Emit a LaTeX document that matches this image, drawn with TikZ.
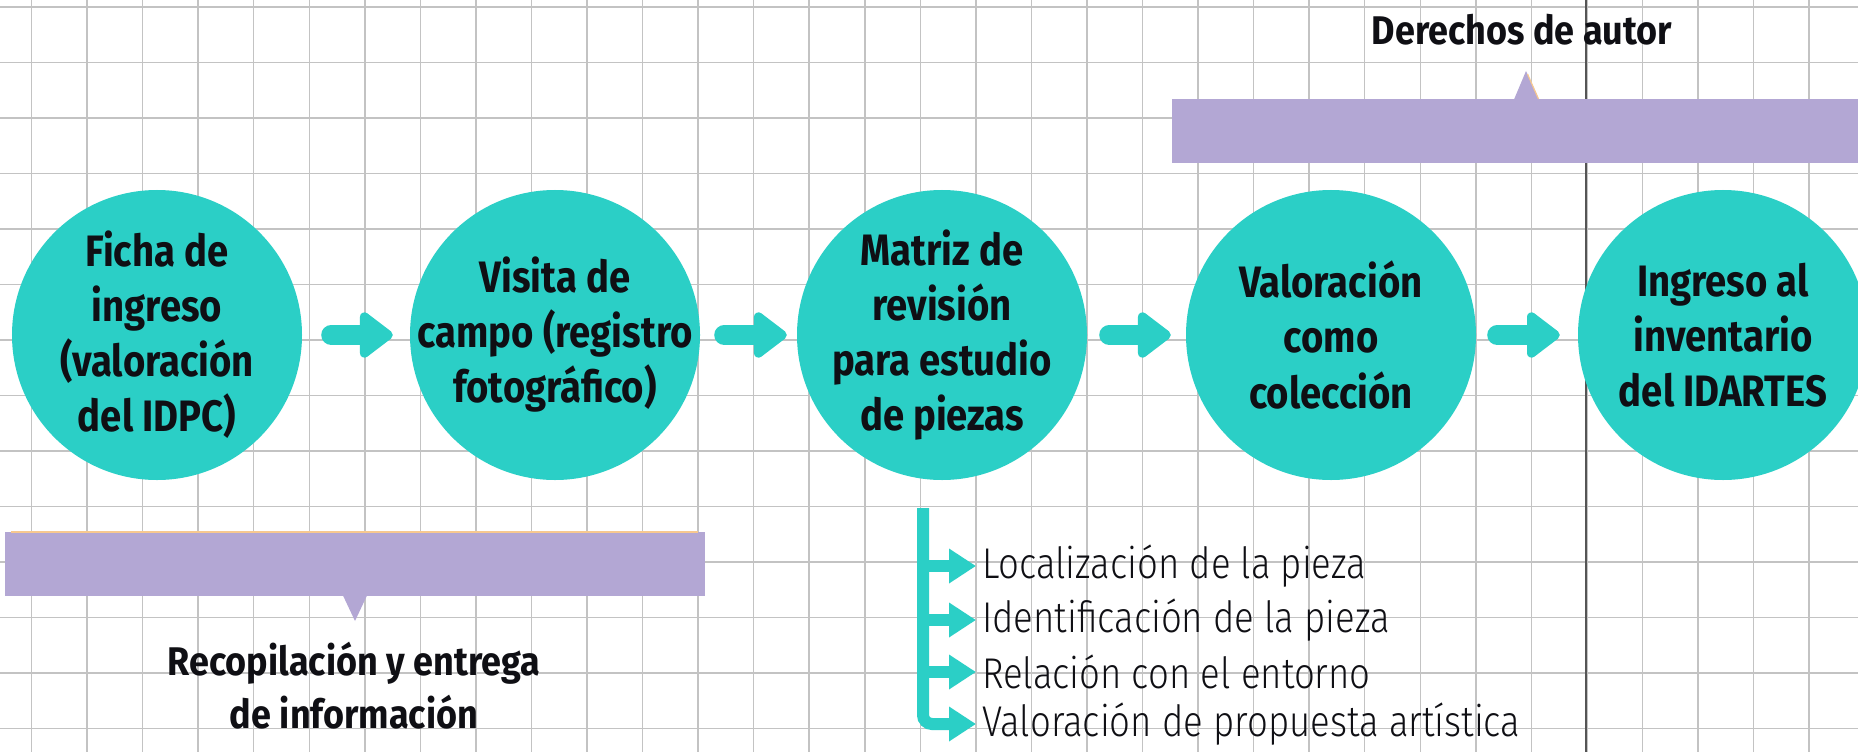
\documentclass[tikz,border=0pt]{standalone}
\usepackage{fontspec}
\setmainfont{Fira Sans}
\newfontfamily\circfam{Fira Sans}[FakeStretch=0.87]
\newfontfamily\labelfam{Fira Sans}[FakeStretch=0.9]
\newfontfamily\listlightfont{Fira Sans Light}[FakeStretch=0.85]
\usetikzlibrary{arrows.meta,calc}
\definecolor{tealc}{RGB}{43,207,198}
\definecolor{purplec}{RGB}{179,167,212}
\definecolor{gridc}{RGB}{195,195,195}
\definecolor{darkgridc}{RGB}{85,85,85}
\definecolor{orangec}{RGB}{247,200,143}
\definecolor{inkc}{RGB}{15,15,20}
\newcommand\myCircFont{\circfam\fontsize{44bp}{55bp}\selectfont\bfseries}
\newcommand\myLabelFont{\labelfam\fontsize{40bp}{53bp}\selectfont\bfseries}
\newcommand\myListFont{\listlightfont\fontsize{43bp}{50bp}\selectfont}
\begin{document}
\begin{tikzpicture}[x=1bp,y=-1bp,
  gridline/.style={draw=gridc,line width=1.5bp},
  darkline/.style={draw=darkgridc,line width=2bp},
  circ/.style={circle,fill=tealc,minimum size=290bp,inner sep=0pt},
  ctext/.style={align=center,font=\myCircFont,text=inkc,inner sep=0pt},
  lbl/.style={align=center,font=\myLabelFont,text=inkc,inner sep=0pt},
  item/.style={anchor=west,font=\myListFont,text=inkc,inner sep=0pt},
  bar/.style={rectangle,fill=purplec,inner sep=0pt},
  flow/.style={draw=tealc,line width=20bp,line cap=round,
    -{Triangle[length=36bp,width=52bp,round]}},
  brk/.style={draw=tealc,line width=12bp,
    -{Triangle[length=27bp,width=33bp]},shorten >=6bp}
]
\useasboundingbox (0,0) rectangle (1858,752);
\fill[white] (0,0) rectangle (1858,752);
% grid
\foreach \i in {0,...,32} \draw[gridline] ({31.5+55.55*\i},0) -- ++(0,752);
\foreach \j in {0,...,13} \draw[gridline] (0,{7+55.5*\j}) -- ++(1858,0);
\draw[darkline] (1586,0) -- (1586,752);

% circles
\node[circ] (c1) at (157,335) {};
\node[circ] (c2) at (555,335) {};
\node[circ] (c3) at (942,335) {};
\node[circ] (c4) at (1331,335) {};
\node[circ] (c5) at (1723,335) {};
\node[ctext] (t1) at (c1) {Ficha de\\ingreso\\(valoración\\del IDPC)};
\node[ctext] (t2) at (c2) {Visita de\\campo (registro\\fotográfico)};
\node[ctext] (t3) at (c3) {Matriz de\\revisión\\para estudio\\de piezas};
\node[ctext] (t4) at (c4) {Valoración\\como\\colección};
\node[ctext] (t5) at (c5) {Ingreso al\\inventario\\del IDARTES};

% arrows between circles
\draw[flow,shorten <=29bp,shorten >=17bp] (c1) -- (c2);
\draw[flow,shorten <=24bp,shorten >=10bp] (c2) -- (c3);
\draw[flow,shorten <=22bp,shorten >=15bp] (c3) -- (c4);
\draw[flow,shorten <=21bp,shorten >=18bp] (c4) -- (c5);

% top purple bar and label
\node[bar,minimum width=686bp,minimum height=64bp] (topbar) at (1515,131) {};
\fill[purplec] (1514,99.5) -- (1526,71) -- (1539,99.5) -- cycle;
\draw[orangec,line width=1.2bp] (1527.5,74) -- (1538.5,99);
\node[lbl] (derechos) at (1522,30) {Derechos de autor};

% bottom purple bar and label
\node[bar,minimum width=699.5bp,minimum height=64bp] (botbar) at (355.25,564) {};
\draw[orangec,line width=2bp] (11,531.5) -- (698,531.5);
\fill[purplec] (343,595.5) -- (355,621) -- (367,595.5) -- cycle;
\node[lbl] (recop) at (354,686) {Recopilación y entrega\\de información};

% bracket list
\coordinate (bt) at (923,508);
\node[item] (l1) at (982,566) {Localización de la pieza};
\node[item] (l2) at (982,620) {Identificación de la pieza};
\node[item] (l3) at (982,672) {Relación con el entorno};
\node[item] (l4) at (982,724) {Valoración de propuesta artística};
\draw[brk,rounded corners=9bp] (bt) |- (l4.west);
\draw[brk] (bt |- l1.west) -- (l1.west);
\draw[brk] (bt |- l2.west) -- (l2.west);
\draw[brk] (bt |- l3.west) -- (l3.west);
\end{tikzpicture}
\end{document}
